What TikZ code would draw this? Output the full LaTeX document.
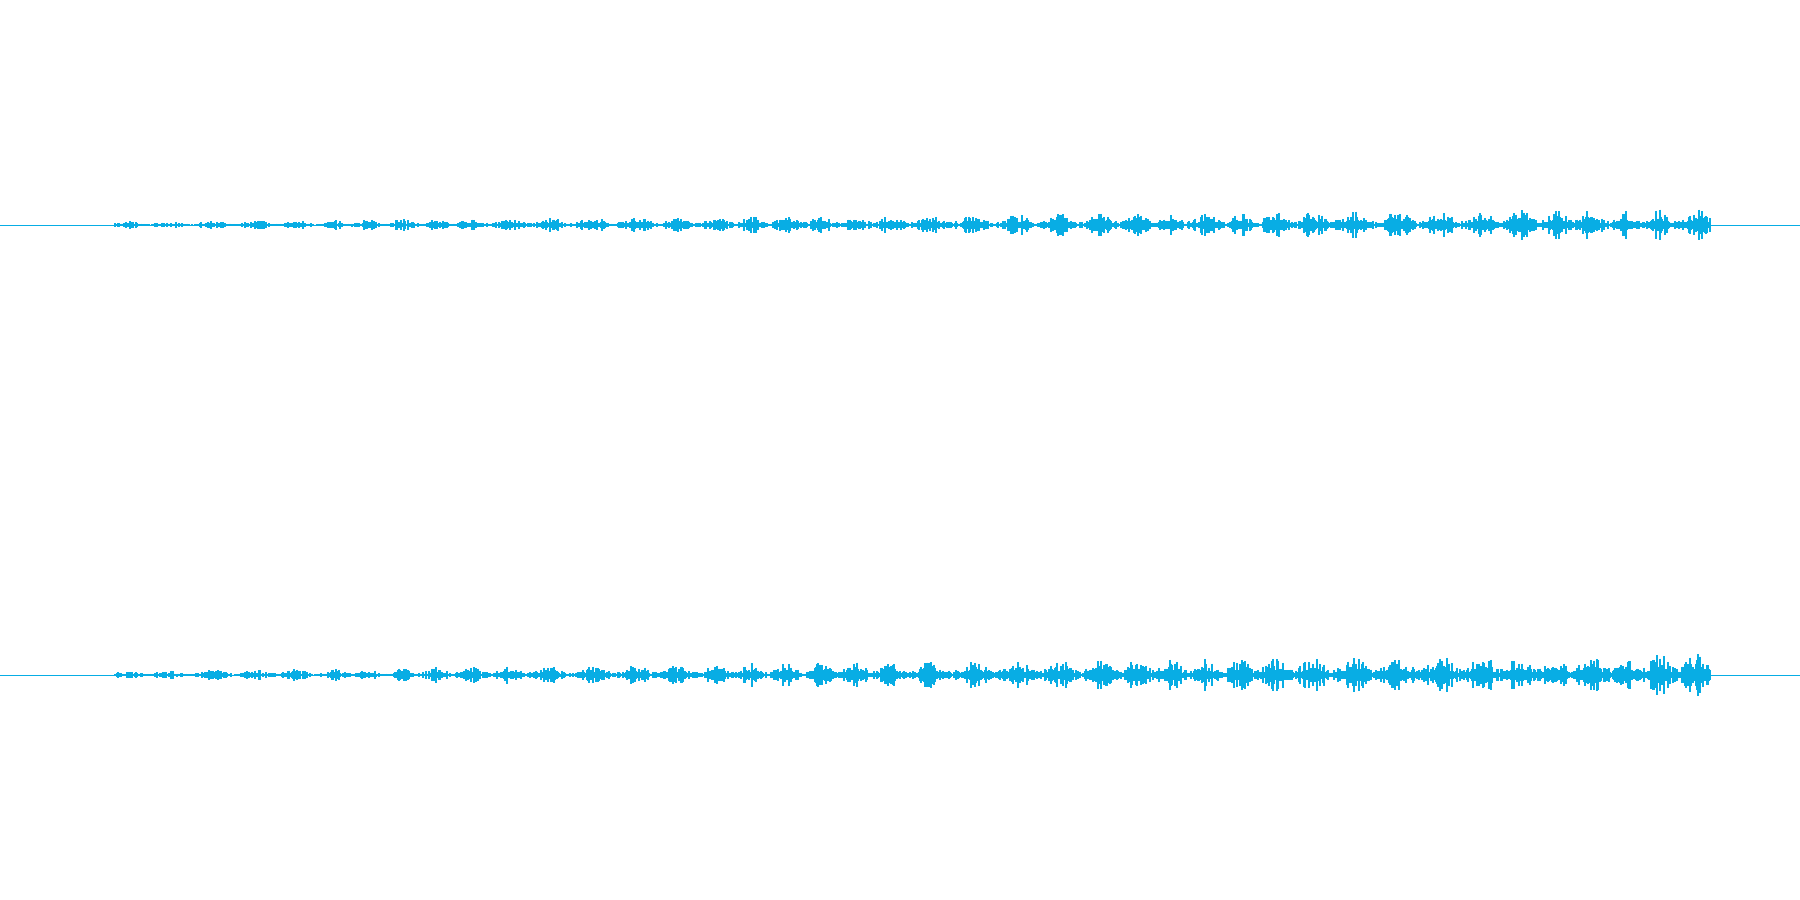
\documentclass[tikz,border=0pt]{standalone}
\definecolor{wave}{HTML}{08ADE4}
\begin{document}
\begin{tikzpicture}[x=1pt,y=-1pt,wv/.style={wave,line width=1.05pt}]
\useasboundingbox (0,0) rectangle (1800,900);
\pgfmathsetseed{7}
\draw[wave,line width=0.6pt] (0,225)--(1800,225);
\draw[wave,line width=0.6pt] (0,675)--(1800,675);
\foreach \x in {115,...,1710}{
  \pgfmathsetmacro\myt{(\x-115)/1600}
  \pgfmathsetmacro\myg{2.5+8*\myt}
  \pgfmathsetmacro\myh{2.5+12*\myt}
  \pgfmathsetmacro\mys{abs(sin(\x*4.7+40*sin(\x*0.9)))}
  \pgfmathsetmacro\myb{0.3+0.7*\mys*\mys}
  \pgfmathsetmacro\myr{rnd}
  \pgfmathsetmacro\myq{rnd}
  \pgfmathsetmacro\mya{\myg*\myb*(0.4+1.2*\myr*\myr)}
  \pgfmathsetmacro\myc{\myh*\myb*(0.4+1.2*\myq*\myq)}
  \draw[wv] (\x,225-\mya)--(\x,225+\mya);
  \draw[wv] (\x,675-\myc)--(\x,675+\myc);
}
\end{tikzpicture}
\end{document}
